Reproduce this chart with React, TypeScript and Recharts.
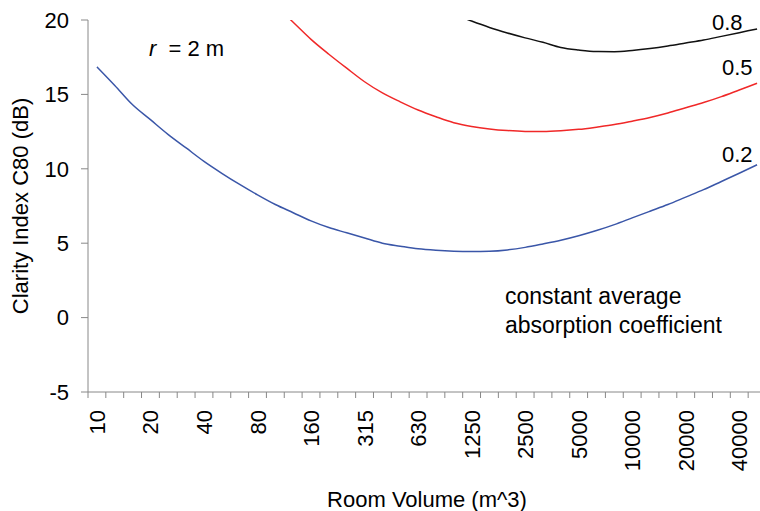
import React from 'react';
import { LineChart, Line, XAxis, YAxis } from 'recharts';

// room volumes on a 1/3-octave grid (m^3)
const VOLUMES = [
  '10', '12.5', '16', '20', '25', '31.5', '40', '50', '63', '80',
  '100', '125', '160', '200', '250', '315', '400', '500', '630', '800',
  '1000', '1250', '1600', '2000', '2500', '3150', '4000', '5000', '6300', '8000',
  '10000', '12500', '16000', '20000', '25000', '31500', '40000', '50000',
];

// C80 for average absorption 0.2
const ALPHA_02 = [
  16.85, 15.6, 14.3, 13.3, 12.3, 11.4, 10.5, 9.7, 8.95, 8.25,
  7.6, 7.05, 6.5, 6.05, 5.7, 5.35, 5.0, 4.8, 4.62, 4.52,
  4.46, 4.44, 4.46, 4.55, 4.72, 4.95, 5.2, 5.5, 5.85, 6.25,
  6.7, 7.15, 7.6, 8.1, 8.6, 9.15, 9.7, 10.27,
];

// C80 for average absorption 0.5
const ALPHA_05 = [
  null, null, null, null, null, null, null, null, null, null,
  21.0, 19.85, 18.7, 17.7, 16.76, 15.85, 15.1, 14.5, 13.95, 13.5,
  13.1, 12.85, 12.68, 12.57, 12.51, 12.5, 12.55, 12.65, 12.8, 12.97,
  13.2, 13.45, 13.75, 14.1, 14.45, 14.85, 15.3, 15.75,
];

// C80 for average absorption 0.8
const ALPHA_08 = [
  null, null, null, null, null, null, null, null, null, null,
  null, null, null, null, null, null, null, null, null, null,
  20.4, 19.93, 19.5, 19.13, 18.8, 18.5, 18.15, 17.98, 17.88, 17.87,
  17.95, 18.08, 18.25, 18.45, 18.65, 18.9, 19.15, 19.4,
];

const Y_TICKS = [-5, 0, 5, 10, 15, 20];

const data = VOLUMES.map((v, i) => ({
  volume: v,
  a02: ALPHA_02[i],
  a05: ALPHA_05[i],
  a08: ALPHA_08[i],
}));

const PLOT_W = 678;
const STEP = PLOT_W / VOLUMES.length;
const AXIS = '#888';
const FONT = '"Liberation Sans", Arial, sans-serif';

const XTick = (props: any) => {
  const { x, y, payload, index } = props;
  const half = STEP / 2;
  const tx = x + 8;
  const ty = y + 18;
  return (
    <g>
      <line x1={x - half} x2={x - half} y1={y} y2={y + 6} stroke={AXIS} />
      {index === VOLUMES.length - 1 && (
        <line x1={x + half} x2={x + half} y1={y} y2={y + 6} stroke={AXIS} />
      )}
      {index % 3 === 0 && (
        <text
          x={tx}
          y={ty}
          transform={`rotate(-90, ${tx}, ${ty})`}
          textAnchor="end"
          fontSize={22}
          fill="#000"
        >
          {payload.value}
        </text>
      )}
    </g>
  );
};

const note = (left: number, top: number, size = 22): React.CSSProperties => ({
  position: 'absolute',
  left,
  top,
  fontSize: size,
  lineHeight: 1.15,
  color: '#000',
  whiteSpace: 'nowrap',
});

export default function App() {
  return (
    <div
      style={{
        position: 'absolute',
        left: 0,
        top: 0,
        width: 760,
        height: 511,
        overflow: 'hidden',
        background: '#fff',
        fontFamily: FONT,
      }}
    >
      <LineChart
        width={770}
        height={511}
        data={data}
        margin={{ top: 20, right: 4, left: 0, bottom: 0 }}
      >
        <XAxis
          dataKey="volume"
          interval={0}
          height={119}
          padding={{ left: STEP / 2, right: STEP / 2 }}
          axisLine={{ stroke: AXIS }}
          tickLine={false}
          tickSize={0}
          tickMargin={0}
          tick={<XTick />}
          label={{ value: 'Room Volume (m^3)', position: 'insideBottom', offset: 4, fontSize: 22, fill: '#000' }}
        />
        <YAxis
          domain={[-5, 20]}
          ticks={Y_TICKS}
          allowDataOverflow
          width={88}
          tickSize={7}
          tickMargin={12}
          axisLine={{ stroke: AXIS }}
          tickLine={{ stroke: AXIS }}
          tick={{ fontSize: 22, fill: '#000' }}
          label={{
            value: 'Clarity Index C80 (dB)',
            angle: -90,
            position: 'insideLeft',
            offset: 20,
            fontSize: 22,
            fill: '#000',
            style: { textAnchor: 'middle' },
          }}
        />
        <Line type="monotone" dataKey="a02" stroke="#3a56a8" strokeWidth={1.5} dot={false} isAnimationActive={false} />
        <Line type="monotone" dataKey="a05" stroke="#f02828" strokeWidth={1.5} dot={false} isAnimationActive={false} />
        <Line type="monotone" dataKey="a08" stroke="#111" strokeWidth={1.5} dot={false} isAnimationActive={false} />
      </LineChart>

      <div style={note(149, 36)}>
        <i>r</i>&nbsp;&nbsp;= 2 m
      </div>
      <div style={note(712, 10)}>0.8</div>
      <div style={note(722, 55)}>0.5</div>
      <div style={note(722, 142)}>0.2</div>
      <div style={{ ...note(505, 282, 23), lineHeight: '29px' }}>
        constant average
        <br />
        absorption coefficient
      </div>
    </div>
  );
}
